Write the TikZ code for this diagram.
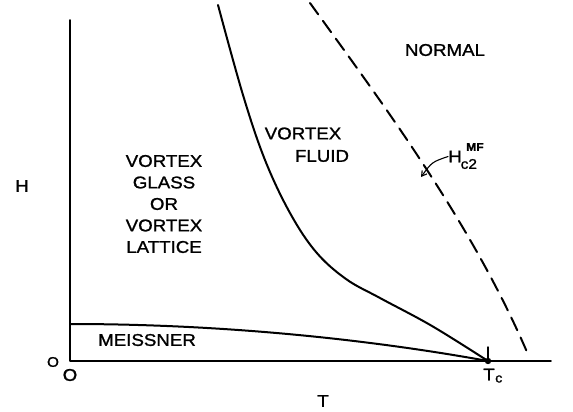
\documentclass[tikz,border=0pt]{standalone}
\usepackage{fontspec}
\setmainfont{Liberation Sans}[FakeStretch=1.1,FakeBold=1.2]
\usetikzlibrary{arrows.meta}
\begin{document}
\begin{tikzpicture}[x=1pt,y=-1pt,line cap=round,line join=round,
  lbl/.style={inner sep=0pt,font=\fontsize{17}{21.5}\selectfont},
  curve/.style={line width=2pt}]
  \useasboundingbox (0,0) rectangle (573,412);
  % axes
  \draw[line width=1.7pt] (70,20) -- (70,361) -- (551,361);
  \draw[line width=1.4pt] (488,347) -- (488,361);
  \fill (488,361) circle (3.2pt);
  % phase boundaries
  \draw[curve] (70,324) .. controls (250,324) and (400,345) .. (488,361);
  \draw[curve] plot[smooth,tension=0.6] coordinates {(218,5) (243,95) (265,160) (290,213)
    (316,252) (346,279) (380,298) (432,326) (488,361)};
  \draw[curve,dash pattern=on 14pt off 8pt] (310,3) .. controls (380,100) and (470,220) .. (527,352);
  % labels
  \node[lbl] (normal) at (445,50) {NORMAL};
  \node[lbl,align=center] (glass) at (164,204) {VORTEX\\GLASS\\OR\\VORTEX\\LATTICE};
  \node[lbl] (vortex) at (303,133.5) {VORTEX};
  \node[lbl] (fluid) at (322,156) {FLUID};
  \node[lbl,anchor=west] (meissner) at (98,340) {MEISSNER};
  \node[lbl] (hc2) at (455,156.5) {H};
  \node[inner sep=0pt,anchor=west,font=\fontsize{14}{14}\selectfont] (hc2sub) at (460.5,164) {c2};
  \node[inner sep=0pt,anchor=west,font=\bfseries\fontsize{11}{11}\selectfont] (hc2sup) at (466,147) {MF};
  \coordinate (hc2tip) at (421,177);
  \draw[line width=1.1pt,-{Straight Barb[length=5pt,width=6pt]}] (hc2.west) .. controls (432,162) .. (hc2tip);
  \node[lbl] (haxis) at (22,186) {H};
  \node[lbl] (taxis) at (323,401) {T};
  \node[lbl] (tc) at (489,374.5) {T};
  \node[inner sep=0pt,anchor=west,font=\fontsize{13}{13}\selectfont] (tcsub) at (495,379) {c};
  \node[inner sep=0pt,font=\fontsize{14}{14}\selectfont] (orig1) at (53,362) {O};
  \node[lbl] (orig2) at (70,375) {O};
\end{tikzpicture}
\end{document}
